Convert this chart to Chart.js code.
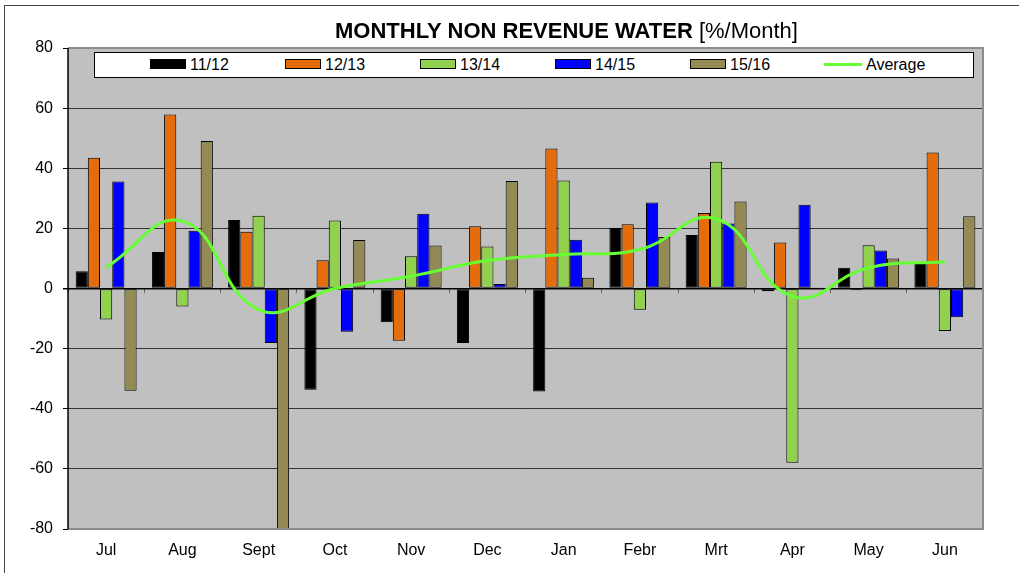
<!DOCTYPE html>
<html>
<head>
<meta charset="utf-8">
<script src="https://cdn.jsdelivr.net/npm/chart.js@4/dist/chart.umd.min.js"></script>
<style>
  body { margin: 0; background: #fff; font-family: "Liberation Sans", Arial, sans-serif; }
  #wrap { position: relative; width: 1019px; height: 573px; overflow: hidden; }
  #frame { position: absolute; left: 4px; top: 5px; width: 2000px; height: 2000px;
           border-top: 1px solid #444; border-left: 1px solid #444; }
  canvas { position: absolute; left: 0; top: 0; }
  #title { position: absolute; left: 0; width: 1133px; top: 18px; text-align: center;
           font-size: 22px; color: #000; white-space: nowrap; }
  #legend { position: absolute; left: 94px; top: 52px; width: 878px; height: 24px;
            background: #fff; border: 1.5px solid #000; }
  .item { position: absolute; top: 4px; font-size: 16px; line-height: 16px; color: #000; white-space: nowrap; }
  .sw { display: inline-block; width: 34px; height: 8px; border: 1px solid #000; vertical-align: 1px; margin-right: 4px; }
  .ln { display: inline-block; width: 38px; height: 3px; vertical-align: 4px; margin-right: 4px; }
</style>
</head>
<body>
<div id="wrap">
  <div id="frame"></div>
  <canvas id="nrwChart" width="1019" height="573"></canvas>
  <div id="title"><b>MONTHLY NON REVENUE WATER</b> [%/Month]</div>
  <div id="legend"></div>
</div>
<script>
const months = ['Jul', 'Aug', 'Sept', 'Oct', 'Nov', 'Dec', 'Jan', 'Febr', 'Mrt', 'Apr', 'May', 'Jun'];
const years = ['11/12', '12/13', '13/14', '14/15', '15/16'];

const nrw1112 = [5.7, 12.1, 22.8, -33.7, -11.2, -18.1, -34.3, 20.1, 17.8, -0.9, 6.9, 8.5];
const nrw1213 = [43.5, 57.9, 18.9, 9.4, -17.4, 20.7, 46.6, 21.4, 25.1, 15.3, -0.6, 45.2];
const nrw1314 = [-10.3, -6, 24.2, 22.6, 10.7, 14, 35.9, -7.1, 42.2, -58, 14.4, -14.1];
const nrw1415 = [35.6, 19.2, -18.1, -14.4, 24.9, 1.5, 16.2, 28.6, 21.6, 27.9, 12.6, -9.6];
const nrw1516 = [-34, 49.1, -85, 16.1, 14.3, 35.8, 3.6, 17.1, 28.9, 0.3, 10, 24];
const average = [7, 22.4, -7, 0, 4.1, 9.3, 11.3, 13, 23.2, -2.6, 6.9, 8.9];

const yTicks = [-80, -60, -40, -20, 0, 20, 40, 60, 80];

const barColors = ['#000000', '#e46c0a', '#92d050', '#0000ff', '#948a54'];
const lineColor = '#66ff33';
const series = [nrw1112, nrw1213, nrw1314, nrw1415, nrw1516];

const barSets = series.map((values, i) => ({
  type: 'bar',
  label: years[i],
  data: values,
  backgroundColor: barColors[i],
  borderColor: '#000',
  borderWidth: 1,
  borderSkipped: false,
  categoryPercentage: 0.8,
  barPercentage: 1,
  clip: 0,
  order: 2
}));

// grey plot area and its frame
const plotArea = {
  id: 'plotArea',
  beforeDraw(chart) {
    const { ctx, chartArea: a } = chart;
    ctx.save();
    ctx.fillStyle = '#c0c0c0';
    ctx.fillRect(a.left, a.top, a.right - a.left, a.bottom - a.top);
    ctx.restore();
  },
  afterDatasetsDraw(chart) {
    const { ctx, chartArea: a } = chart;
    ctx.save();
    ctx.strokeStyle = '#8c8c8c';
    ctx.lineWidth = 2;
    ctx.beginPath();
    ctx.moveTo(a.left, a.top);
    ctx.lineTo(a.right, a.top);
    ctx.lineTo(a.right, a.bottom);
    ctx.lineTo(a.left, a.bottom);
    ctx.stroke();
    ctx.strokeStyle = '#000';
    ctx.lineWidth = 1.5;
    ctx.beginPath();
    ctx.moveTo(a.left, a.top);
    ctx.lineTo(a.left, a.bottom);
    ctx.stroke();
    ctx.restore();
  }
};

const ctx = document.getElementById('nrwChart').getContext('2d');
const nrwChart = new Chart(ctx, {
  data: {
    labels: months,
    datasets: [
      ...barSets,
      {
        type: 'line',
        label: 'Average',
        data: average,
        borderColor: lineColor,
        borderWidth: 3,
        pointRadius: 0,
        tension: 0.45,
        fill: false,
        order: 1
      }
    ]
  },
  options: {
    responsive: false,
    animation: false,
    layout: { padding: { left: 0, right: 36, top: 48, bottom: 0 } },
    plugins: {
      legend: { display: false },
      title: { display: false },
      tooltip: { enabled: false }
    },
    scales: {
      x: {
        type: 'category',
        offset: true,
        grid: { display: false, drawTicks: false },
        border: { display: false },
        ticks: { color: '#000', padding: 12, font: { family: 'Liberation Sans', size: 16 } },
        afterFit(scale) { scale.height = 44; }
      },
      x2: {
        type: 'category',
        position: { y: 0 },
        offset: true,
        grid: { offset: true, drawOnChartArea: false, drawTicks: true, tickLength: 4, color: '#666' },
        border: { display: false },
        ticks: { display: false }
      },
      y: {
        min: -80,
        max: 80,
        afterBuildTicks(scale) { scale.ticks = yTicks.map(v => ({ value: v })); },
        grid: {
          color: c => (c.tick.value === 80 || c.tick.value === -80) ? 'rgba(0,0,0,0)' : (c.tick.value === 0 ? '#000' : '#333'),
          lineWidth: c => c.tick.value === 0 ? 1.5 : 1,
          tickColor: '#000',
          tickLength: 5
        },
        border: { display: false },
        ticks: { color: '#000', padding: 10, font: { family: 'Liberation Sans', size: 16 } },
        afterFit(scale) { scale.width = 68; }
      }
    }
  },
  plugins: [plotArea]
});

// legend drawn over the top of the plot area, like the original
const legendBox = document.getElementById('legend');
const legendLeft = [150, 285, 420, 555, 690, 824];
years.forEach((y, i) => {
  const d = document.createElement('div');
  d.className = 'item';
  d.style.left = (legendLeft[i] - 95) + 'px';
  d.innerHTML = `<span class="sw" style="background:${barColors[i]}"></span>${y}`;
  legendBox.appendChild(d);
});
const avgItem = document.createElement('div');
avgItem.className = 'item';
avgItem.style.left = (legendLeft[5] - 95) + 'px';
avgItem.innerHTML = `<span class="ln" style="background:${lineColor}"></span>Average`;
legendBox.appendChild(avgItem);
</script>
</body>
</html>
